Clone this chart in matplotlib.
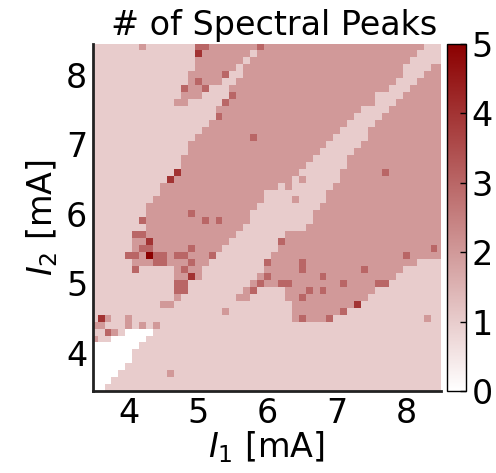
import numpy as np
import matplotlib
matplotlib.use('Agg')
import matplotlib.pyplot as plt
from matplotlib.colors import LinearSegmentedColormap

# grid of currents (mA)
i1 = np.linspace(3.5, 8.5, 51)
i2 = np.linspace(3.5, 8.4, 50)

# number of spectral peaks, one string per row, top row (I2 = 8.4) first
# "v*n" = value v repeated n times
rows = [
    "1*7 2 1*7 3*2 2*7 3 2*23 1*3",
    "1*15 4 2*7 1 2*23 1*4",
    "1*15 2*7 1 2*23 1*5",
    "1*15 2*6 1 2*23 1*4 2*2",
    "1*14 2*5 3 1*2 2*23 1*3 2*3",
    "1*14 2 3 2*3 1*2 2*23 1*3 2*4",
    "1*13 3 2*2 3 1*3 2*23 1*3 2*5",
    "1*13 2*3 1*4 3 2*20 1*4 2*6",
    "1*12 2*2 1*5 3 2*21 1*3 2*7",
    "1*18 2*21 1*4 2*8",
    "1*18 3 2*19 1*4 2*9",
    "1*17 2*20 1*4 2*10",
    "1*16 2*20 1*4 2*11",
    "1*15 2*8 3 2*11 1*5 2*11",
    "1*14 2*20 1*5 2*12",
    "1*14 2*19 1*5 2*13",
    "1*13 2*19 1*5 2*14",
    "1*13 2*18 1*6 2*14",
    "1*12 4 2*17 1*6 2*6 3 2*8",
    "1*11 4 2*17 1 2 1*5 2*15",
    "1*10 2*17 1 2 1*6 2*16",
    "1*10 2*15 1*9 2*17",
    "1*9 2*16 1*4 2 1*4 2*17",
    "1*8 2*16 1*9 2*18",
    "1*8 2*6 3 2*8 1*9 2*19",
    "1*7 3 2*8 3 2 3 2*4 1*9 2*19",
    "1*8 2*14 1*9 2*20",
    "1*6 3*2 2*13 1*7 2*23",
    "1*6 2*2 4 2*11 1*7 3 2*23",
    "1*6 2 3*2 2*5 3 2*4 1*8 2*22 3 2",
    "1*5 3*2 2 5 3*2 2 3*2 2*3 3 1*8 2*19 3 2*5",
    "1*6 2*3 3*2 2*3 3 2*2 1*8 3 2*4 3 2*16 1*4",
    "1*6 3 1*5 2 3 2*2 1*9 2*5 3 2*8 3 2*5 1*6",
    "1*12 2*2 4 2 1*8 2 3 2*7 3 2*10 1*7",
    "1*12 3*2 1*9 2 3 2*2 3*2 2*7 3 2*4 3*2 1*8",
    "1*12 3*2 1*8 2 3 1*4 2*3 3 2 3 2*7 1*10",
    "1*12 2 1*8 2*2 1*5 2*2 3 2*9 1*11",
    "1*10 2*2 1*17 2*9 4 1*12",
    "1*19 2 1*9 2*7 3 1*14",
    "1 4 2 1*2 2 1*23 2 3 2*3 3 1*13 2 1*2",
    "2*2 1*3 2 1 2 1 2 1*41",
    "1*2 3 2 1 0*4 1*42",
    "2 1*2 0*5 1*43",
    "0*7 1*44",
    "0*6 1*45",
    "0*6 1*45",
    "0*5 1*46",
    "0*4 1*7 2 1*39",
    "0*3 1*48",
    "0*2 1*49",
]


def expand(row):
    out = []
    for tok in row.split():
        v, _, n = tok.partition('*')
        out += [int(v)] * int(n or 1)
    return out


peaks = np.array([expand(r) for r in rows[::-1]])

cmap = LinearSegmentedColormap.from_list('white_darkred', ['white', '#8b0000'])

fig = plt.figure(figsize=(4.96, 4.73), dpi=100)
ax = fig.add_axes([0.187, 0.173, 0.702, 0.735])
cax = fig.add_axes([0.902, 0.173, 0.037, 0.735])

mesh = ax.pcolormesh(i1, i2, peaks, cmap=cmap, vmin=0, vmax=5, shading='nearest')
ax.set_xlim(3.48, 8.5)
ax.set_ylim(3.45, 8.45)
ax.set_xticks([4, 5, 6, 7, 8])
ax.set_yticks([4, 5, 6, 7, 8])
ax.tick_params(length=0, labelsize=24, pad=4)
for s in ['top', 'right']:
    ax.spines[s].set_visible(False)
for s in ['left', 'bottom']:
    ax.spines[s].set_linewidth(2)
    ax.spines[s].set_color('#222222')

ax.set_xlabel('$I_1$ [mA]', fontsize=24, labelpad=0)
ax.set_ylabel('$I_2$ [mA]', fontsize=24, labelpad=4)
ax.set_title('# of Spectral Peaks', fontsize=24, pad=6, x=0.52)

cb = fig.colorbar(mesh, cax=cax, ticks=range(6))
cb.ax.tick_params(labelsize=24, direction='in', length=4, width=1, pad=4)
cb.outline.set_linewidth(1)

fig.savefig('out.png', dpi=100)
